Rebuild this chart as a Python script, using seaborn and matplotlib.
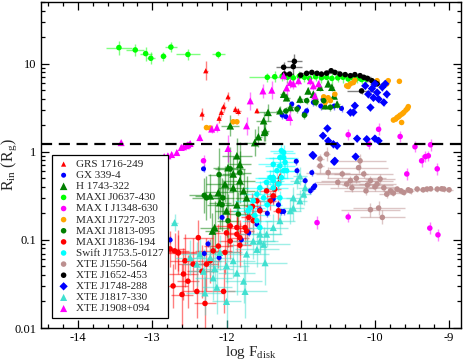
import numpy as np
import pandas as pd
import seaborn as sns
from matplotlib import pyplot as plt
from matplotlib.ticker import FixedLocator, LogLocator, NullFormatter

# ---- data: log F_disk (x), R_in in R_g (y), errors: x in dex, y in dex ----
GRS_X = [-12.28, -12.33, -11.98, -12.04, -12.07, -12.10, -11.88, -11.84, -11.59, -11.28, -11.30]
GRS_Y = [8.3, 2.68, 4.2, 3.25, 2.8, 2.4, 3.02, 2.87, 2.92, 0.53, 0.45]
GRS_XE = [0.03, 0.03, 0.03, 0.03, 0.03, 0.03, 0.03, 0.03, 0.02, 0.02, 0.03]
GRS_YE = [0.11, 0.07, 0.05, 0.05, 0.05, 0.05, 0.04, 0.04, 0.03, 0.08, 0.06]

GX_X = [-11.12, -11.03, -10.92, -10.83, -10.70, -10.55, -11.25, -11.20, -10.95, -10.45, -10.73,
        -11.06, -10.85, -10.81, -10.87, -10.94, -10.83, -11.05, -11.37, -11.26, -11.23, -11.55,
        -11.59, -12.06, -12.25, -12.76, -12.31, -11.70, -11.80, -11.45, -11.30, -12.30, -12.10]
GX_Y = [3.48, 3.18, 2.92, 3.63, 3.9, 3.3, 2.6, 2.5, 2.7, 3.1, 3.3,
        0.78, 0.58, 0.41, 0.36, 0.47, 0.39, 0.61, 0.29, 0.21, 0.21, 0.22,
        0.15, 0.18, 0.09, 0.10, 0.64, 0.12, 0.10, 0.20, 0.25, 0.07, 0.063]
GX_XE = [0.02] * 33
GX_YE = [0.04] * 33

H1743_X = [-11.23, -11.01, -10.67, -10.51, -10.83, -10.63, -10.74, -10.58, -11.14, -11.28, -11.19,
           -10.90, -10.80, -10.55, -11.44, -11.50, -11.48, -11.57, -11.49, -11.62, -11.95, -11.86,
           -11.82, -11.98, -11.91, -11.82, -12.02, -12.11, -12.09, -12.22, -11.91, -11.77, -11.73,
           -12.00, -12.16, -12.19, -11.86]
H1743_Y = [4.5, 3.96, 3.33, 3.48, 4.5, 5.9, 5.4, 5.4, 3.18, 2.92, 4.1,
           4.9, 4.0, 4.3, 2.8, 2.25, 1.73, 1.48, 1.66, 1.27, 1.97, 0.90,
           0.72, 0.66, 0.56, 0.47, 0.43, 0.345, 0.265, 0.316, 0.39, 0.36, 0.30,
           0.214, 0.138, 0.126, 0.25]
H1743_XE = [0.05, 0.04, 0.04, 0.04, 0.04, 0.03, 0.03, 0.03, 0.05, 0.05, 0.04,
            0.03, 0.03, 0.03, 0.15, 0.1, 0.05, 0.05, 0.05, 0.15, 0.12, 0.2,
            0.15, 0.2, 0.15, 0.2, 0.25, 0.2, 0.15, 0.2, 0.2, 0.15, 0.15,
            0.15, 0.2, 0.1, 0.15]
H1743_YE = [0.04, 0.04, 0.04, 0.04, 0.04, 0.04, 0.04, 0.04, 0.05, 0.05, 0.04,
            0.04, 0.04, 0.04, 0.1, 0.1, 0.12, 0.12, 0.1, 0.15, 0.12, 0.2,
            0.25, 0.25, 0.2, 0.25, 0.2, 0.3, 0.3, 0.25, 0.2, 0.25, 0.25,
            0.3, 0.3, 0.2, 0.25]

J0637_X = [-13.45, -13.23, -13.09, -13.02, -12.85, -12.75, -12.52, -12.11,
           -11.45, -11.35, -11.25, -11.18, -11.10, -11.02, -10.95, -10.88, -10.80, -10.72,
           -10.65, -10.58, -10.50, -10.43, -10.36, -10.30, -10.24, -10.18, -10.12]
J0637_Y = [15.2, 14.3, 13.0, 11.5, 12.1, 15.4, 12.7, 12.7,
           7.0, 7.1, 7.2, 7.0, 6.9, 7.2, 7.0, 6.8, 7.1, 6.9,
           7.0, 6.8, 6.9, 7.0, 6.7, 6.9, 6.8, 6.6, 6.7]
J0637_XE = [0.17, 0.12, 0.08, 0.05, 0.03, 0.08, 0.16, 0.09,
            0.25, 0.03, 0.03, 0.03, 0.03, 0.03, 0.03, 0.03, 0.03, 0.03,
            0.03, 0.03, 0.03, 0.03, 0.03, 0.03, 0.03, 0.03, 0.03]
J0637_YE = [0.08, 0.07, 0.08, 0.07, 0.05, 0.06, 0.06, 0.04,
            0.05, 0.06, 0.05, 0.06, 0.05, 0.06, 0.05, 0.06, 0.05, 0.06,
            0.05, 0.06, 0.05, 0.06, 0.05, 0.06, 0.05, 0.05, 0.05]

J1348_X = [-10.36, -10.08, -9.66, -9.95, -9.46, -9.37, -9.32, -9.28, -9.25, -9.57, -9.16,
           -10.78, -10.36, -9.26, -9.15, -12.31, -12.81]
J1348_Y = [1.56, 1.22, 1.49, 1.80, 1.14, 0.79, 0.88, 0.90, 1.20, 0.56, 0.64,
           0.157, 0.182, 0.136, 0.114, 0.79, 0.26]
J1348_XE = [0.02] * 17
J1348_YE = [0.06, 0.05, 0.06, 0.07, 0.06, 0.07, 0.06, 0.06, 0.07, 0.07, 0.07,
            0.07, 0.06, 0.07, 0.07, 0.06, 0.05]

J1727_X = [-10.36, -10.27, -10.33, -10.29, -10.38, -10.69, -10.54, -10.60, -10.67, -10.63,
           -9.82, -9.97, -9.84, -9.67, -9.75, -9.72, -9.70, -9.68, -9.66, -9.63, -9.61,
           -9.58, -9.56, -9.55, -9.64, -12.27, -12.22, -11.91, -11.86]
J1727_Y = [5.5, 6.5, 5.9, 6.1, 5.6, 4.2, 4.5, 3.8, 3.63, 4.1,
           6.4, 6.4, 5.9, 6.3, 2.29, 2.35, 2.45, 2.5, 2.6, 2.7, 2.8,
           2.98, 3.1, 3.25, 2.15, 1.88, 1.86, 2.19, 2.19]
J1727_XE = [0.01] * 29
J1727_YE = [0.02] * 29

J1813_X = [-10.92, -11.05, -10.69, -10.80, -11.20, -10.60, -10.95,
           -12.27, -12.06, -11.82, -11.98, -11.84, -12.05, -12.30, -11.95, -12.10]
J1813_Y = [3.8, 3.05, 3.8, 3.6, 2.9, 3.2, 2.6,
           0.30, 0.25, 0.58, 0.165, 0.196, 0.30, 0.32, 0.64, 0.55]
J1813_XE = [0.03, 0.03, 0.03, 0.03, 0.03, 0.03, 0.03,
            0.2, 0.2, 0.15, 0.15, 0.2, 0.15, 0.2, 0.2, 0.15]
J1813_YE = [0.04, 0.04, 0.04, 0.04, 0.04, 0.04, 0.04,
            0.25, 0.3, 0.25, 0.3, 0.25, 0.2, 0.2, 0.25, 0.3]

J1836_X = [-12.72, -12.60, -12.58, -12.52, -12.65, -12.70, -12.40, -12.29, -12.04, -12.45,
           -12.33, -12.22, -12.11, -11.95, -11.86, -11.75, -11.95, -11.82, -12.02, -12.18,
           -12.38, -12.27, -12.56, -12.76, -12.65, -11.37, -11.41, -11.30, -11.46, -11.55,
           -11.64, -11.73, -11.82, -11.86, -11.59, -11.35, -12.00, -11.70, -11.65]
J1836_Y = [0.030, 0.024, 0.041, 0.034, 0.072, 0.075, 0.026, 0.019, 0.026, 0.053,
           0.044, 0.058, 0.085, 0.097, 0.116, 0.138, 0.144, 0.087, 0.072, 0.075,
           0.106, 0.053, 0.058, 0.079, 0.071, 0.316, 0.277, 0.214, 0.36, 0.214,
           0.165, 0.126, 0.106, 0.138, 0.277, 0.376, 0.12, 0.18, 0.24]
J1836_XE = [0.2, 0.15, 0.2, 0.15, 0.25, 0.2, 0.2, 0.15, 0.15, 0.2,
            0.2, 0.15, 0.2, 0.15, 0.15, 0.1, 0.2, 0.15, 0.2, 0.25,
            0.2, 0.15, 0.2, 0.2, 0.25, 0.08, 0.08, 0.08, 0.1, 0.1,
            0.1, 0.1, 0.12, 0.1, 0.1, 0.08, 0.15, 0.1, 0.1]
J1836_YE = [0.25, 0.35, 0.3, 0.3, 0.25, 0.2, 0.3, 0.3, 0.25, 0.3,
            0.3, 0.25, 0.25, 0.2, 0.2, 0.2, 0.2, 0.25, 0.25, 0.25,
            0.2, 0.3, 0.3, 0.2, 0.2, 0.1, 0.1, 0.12, 0.1, 0.12,
            0.15, 0.15, 0.2, 0.15, 0.12, 0.1, 0.2, 0.15, 0.15]

J1753_X = [-11.26, -11.23, -11.21, -11.28, -11.32, -11.23, -11.37, -11.26, -11.30, -11.37,
           -11.23, -11.28, -11.37, -11.41, -11.46, -11.55, -11.59, -11.64, -11.68, -11.71,
           -11.59, -11.55, -11.37, -11.19, -11.28, -11.50, -11.45, -11.62]
J1753_Y = [1.03, 0.86, 0.76, 0.69, 0.61, 0.61, 0.51, 0.51, 0.43, 0.39,
           0.98, 0.86, 0.72, 0.51, 0.45, 0.39, 0.33, 0.277, 0.23, 0.214,
           0.165, 0.138, 0.47, 0.61, 0.30, 0.30, 0.25, 0.19]
J1753_XE = [0.15, 0.2, 0.15, 0.2, 0.15, 0.2, 0.2, 0.15, 0.2, 0.2,
            0.15, 0.2, 0.2, 0.2, 0.15, 0.2, 0.2, 0.25, 0.2, 0.2,
            0.2, 0.2, 0.15, 0.15, 0.2, 0.2, 0.2, 0.2]
J1753_YE = [0.08] * 28

J1550_X = [-10.74, -10.74, -10.63, -10.65, -10.44, -10.33, -10.22, -10.20, -10.15, -10.06,
           -9.97, -9.88, -9.79, -9.70, -9.61, -9.52, -9.43, -9.30, -9.16, -9.07,
           -9.84, -9.93, -10.31, -10.38, -10.06, -9.95, -9.90, -10.50, -10.10, -10.00,
           -9.75, -9.65, -9.55, -9.35, -9.25, -9.10, -9.00, -10.25, -10.12]
J1550_Y = [0.83, 0.69, 0.58, 0.94, 0.56, 0.47, 0.66, 0.79, 0.56, 0.47,
           0.43, 0.39, 0.36, 0.377, 0.345, 0.36, 0.377, 0.377, 0.377, 0.377,
           0.33, 0.49, 0.39, 0.43, 0.22, 0.23, 0.18, 0.45, 0.42, 0.40,
           0.34, 0.36, 0.37, 0.37, 0.38, 0.38, 0.37, 0.50, 0.36]
J1550_XE = [0.05, 0.05, 0.3, 0.05, 0.35, 0.4, 0.4, 0.35, 0.4, 0.3,
            0.25, 0.2, 0.1, 0.08, 0.05, 0.05, 0.05, 0.05, 0.05, 0.05,
            0.1, 0.2, 0.3, 0.4, 0.4, 0.35, 0.3, 0.3, 0.35, 0.3,
            0.1, 0.05, 0.05, 0.05, 0.05, 0.05, 0.05, 0.4, 0.3]
J1550_YE = [0.06, 0.08, 0.06, 0.08, 0.05, 0.05, 0.06, 0.08, 0.05, 0.05,
            0.05, 0.04, 0.03, 0.03, 0.03, 0.03, 0.03, 0.03, 0.03, 0.03,
            0.04, 0.06, 0.05, 0.05, 0.08, 0.08, 0.08, 0.05, 0.05, 0.05,
            0.03, 0.03, 0.03, 0.03, 0.03, 0.03, 0.03, 0.05, 0.05]

J1652_X = [-11.085, -11.10, -11.23, -11.22, -11.15, -10.92, -10.85, -10.78, -10.72, -10.59,
           -10.54, -10.47, -10.40, -10.33, -10.27, -10.20, -10.15, -10.04, -10.00, -10.18,
           -9.97, -11.00, -10.65, -10.10]
J1652_Y = [10.6, 9.25, 9.1, 7.6, 7.6, 7.76, 7.95, 7.76, 7.6, 8.3,
           7.95, 7.6, 7.5, 7.3, 7.5, 7.3, 7.0, 6.4, 6.1, 4.9,
           5.9, 7.4, 7.8, 6.8]
J1652_XE = [0.1, 0.12, 0.1, 0.05, 0.05, 0.08, 0.06, 0.05, 0.05, 0.1,
            0.05, 0.06, 0.08, 0.05, 0.05, 0.08, 0.1, 0.1, 0.05, 0.2,
            0.1, 0.05, 0.05, 0.05]
J1652_YE = [0.08, 0.1, 0.06, 0.04, 0.04, 0.03, 0.03, 0.03, 0.03, 0.03,
            0.03, 0.03, 0.03, 0.03, 0.03, 0.03, 0.03, 0.03, 0.03, 0.03,
            0.03, 0.03, 0.03, 0.03]

J1748_X = [-10.64, -10.70, -10.63, -10.56, -10.51, -10.24, -10.11, -10.00, -9.95, -10.83,
           -10.26, -10.54, -10.84, -10.55, -10.13, -10.04, -9.97, -9.90, -9.86, -10.02,
           -9.95, -9.88, -10.09, -9.84, -10.00, -10.29, -10.27, -10.06, -10.33]
J1748_Y = [1.84, 1.52, 1.33, 1.22, 1.17, 1.41, 1.39, 1.41, 1.33, 0.90,
           0.88, 0.79, 0.92, 0.77, 5.6, 5.2, 4.7, 5.4, 5.9, 4.1,
           3.96, 3.63, 4.5, 4.5, 5.9, 2.8, 3.33, 3.18, 2.79]
J1748_XE = [0.02] * 29
J1748_YE = [0.04] * 29

J1817_X = [-11.10, -11.01, -10.96, -11.05, -11.01, -10.94, -11.14, -12.70, -12.36, -12.22,
           -12.31, -12.18, -12.13, -12.00, -12.29, -12.00, -11.91, -11.86, -11.75, -11.73,
           -11.59, -11.50, -11.48, -11.55, -11.64, -12.09, -12.16, -12.40, -11.77, -12.49,
           -11.10, -11.28, -11.37, -11.46, -11.55]
J1817_Y = [0.30, 0.277, 0.33, 0.47, 0.53, 0.39, 0.214, 0.157, 0.069, 0.063,
           0.044, 0.037, 0.029, 0.020, 0.025, 0.051, 0.058, 0.042, 0.026, 0.069,
           0.078, 0.089, 0.055, 0.116, 0.097, 0.072, 0.047, 0.053, 0.034, 0.063,
           0.23, 0.165, 0.138, 0.116, 0.097]
J1817_XE = [0.1, 0.1, 0.1, 0.1, 0.1, 0.1, 0.15, 0.05, 0.25, 0.3,
            0.2, 0.25, 0.2, 0.2, 0.25, 0.3, 0.3, 0.25, 0.3, 0.3,
            0.3, 0.35, 0.3, 0.3, 0.3, 0.3, 0.25, 0.2, 0.25, 0.2,
            0.15, 0.2, 0.2, 0.2, 0.25]
J1817_YE = [0.12, 0.12, 0.12, 0.1, 0.1, 0.12, 0.15, 0.1, 0.2, 0.2,
            0.25, 0.25, 0.3, 0.35, 0.25, 0.2, 0.2, 0.25, 0.3, 0.2,
            0.2, 0.2, 0.25, 0.2, 0.2, 0.2, 0.25, 0.25, 0.25, 0.2,
            0.15, 0.15, 0.15, 0.15, 0.15]

J1908_X = [-13.42, -12.84, -12.79, -12.74, -12.67, -12.61, -12.58, -12.54, -12.52, -12.49,
           -12.36, -12.20, -12.13, -11.98, -11.73, -11.68, -11.51, -11.39, -11.19, -11.23,
           -11.14, -11.10, -11.03, -10.87, -10.83, -10.76, -10.81, -11.15]
J1908_Y = [1.27, 0.88, 0.90, 0.93, 0.98, 1.12, 1.14, 1.17, 1.20, 1.24,
           1.45, 1.81, 1.89, 1.09, 1.97, 3.78, 4.9, 5.0, 5.3, 7.3,
           6.1, 5.9, 6.4, 6.4, 5.6, 5.9, 4.3, 2.45]
J1908_XE = [0.02] * 28
J1908_YE = [0.03, 0.03, 0.03, 0.03, 0.03, 0.03, 0.03, 0.03, 0.03, 0.03,
            0.04, 0.05, 0.05, 0.15, 0.1, 0.1, 0.08, 0.1, 0.08, 0.05,
            0.06, 0.06, 0.05, 0.05, 0.05, 0.05, 0.05, 0.08]

R_ISCO = 1.237
X_TICKS = [-14, -13, -12, -11, -10, -9]

SOURCES = [
    ("GRS 1716-249", GRS_X, GRS_Y, GRS_XE, GRS_YE, "#ff0000", "^", 14),
    ("GX 339-4", GX_X, GX_Y, GX_XE, GX_YE, "#0000ff", "o", 13),
    ("H 1743-322", H1743_X, H1743_Y, H1743_XE, H1743_YE, "#007f00", "^", 30),
    ("MAXI J0637-430", J0637_X, J0637_Y, J0637_XE, J0637_YE, "#00ff00", "o", 16),
    ("MAX I J1348-630", J1348_X, J1348_Y, J1348_XE, J1348_YE, "#ff00ff", "o", 16),
    ("MAXI J1727-203", J1727_X, J1727_Y, J1727_XE, J1727_YE, "#ffa500", "o", 16),
    ("MAXI J1813-095", J1813_X, J1813_Y, J1813_XE, J1813_YE, "#007f00", "o", 16),
    ("MAXI J1836-194", J1836_X, J1836_Y, J1836_XE, J1836_YE, "#ff0000", "o", 16),
    ("Swift J1753.5-0127", J1753_X, J1753_Y, J1753_XE, J1753_YE, "#00ffff", "o", 16),
    ("XTE J1550-564", J1550_X, J1550_Y, J1550_XE, J1550_YE, "#bc8f8f", "o", 16),
    ("XTE J1652-453", J1652_X, J1652_Y, J1652_XE, J1652_YE, "#000000", "o", 16),
    ("XTE J1748-288", J1748_X, J1748_Y, J1748_XE, J1748_YE, "#0000ff", "D", 18),
    ("XTE J1817-330", J1817_X, J1817_Y, J1817_XE, J1817_YE, "#40e0d0", "^", 26),
    ("XTE J1908+094", J1908_X, J1908_Y, J1908_XE, J1908_YE, "#ff00ff", "^", 26),
]

sns.set_style("ticks")
plt.rcParams['font.family'] = ['Liberation Serif', 'DejaVu Serif']
plt.rcParams['mathtext.fontset'] = 'custom'
plt.rcParams['mathtext.rm'] = 'Liberation Serif'
plt.rcParams['mathtext.it'] = 'Liberation Serif:italic'

fig = plt.figure(figsize=(4.63, 3.63), dpi=100)
ax = fig.add_axes([0.0886, 0.0964, 0.907, 0.898])

for name, xs, ys, xe, ye, col, mk, size in SOURCES:
    df = pd.DataFrame({"x": xs, "y": ys, "xe": xe, "ye": ye})
    lo = df["y"] - df["y"] * 10 ** (-df["ye"])
    hi = df["y"] * 10 ** df["ye"] - df["y"]
    ax.errorbar(df["x"], df["y"], xerr=df["xe"], yerr=[lo, hi], fmt="none",
                ecolor=col, alpha=0.5, elinewidth=1.0, capsize=0, zorder=2)
    sns.scatterplot(data=df, x="x", y="y", ax=ax, color=col, marker=mk, s=size,
                    edgecolor="none", linewidth=0, label=name, zorder=3)

ax.axhline(R_ISCO, color="black", lw=1.6, ls=(0, (5, 3)), zorder=4)

ax.set_yscale("log")
ax.set_xlim(-14.5, -8.84)
ax.set_ylim(0.01, 50)
ax.xaxis.set_major_locator(FixedLocator(X_TICKS))
ax.xaxis.set_minor_locator(FixedLocator(np.arange(-14.4, -8.8, 0.2)))
ax.yaxis.set_major_locator(LogLocator(base=10))
ax.yaxis.set_minor_locator(LogLocator(base=10, subs=np.arange(2, 10)))
ax.yaxis.set_minor_formatter(NullFormatter())
ax.set_yticks([0.01, 0.1, 1, 10])
ax.set_yticklabels(["0.01", "0.1", "1", "10"])
ax.set_xticklabels([str(t) for t in X_TICKS])
ax.tick_params(which="both", direction="in", top=True, right=True, labelsize=9,
               width=0.9, colors="black")
ax.tick_params(axis="x", which="major", pad=3)
ax.tick_params(which="major", length=6)
ax.tick_params(which="minor", length=3)
for sp in ax.spines.values():
    sp.set_linewidth(1.0)
    sp.set_color("black")

ax.set_xlabel(r"log F$_{\rm disk}$", fontsize=11)
ax.set_ylabel(r"R$_{\rm in}$ (R$_{\rm g}$)", fontsize=11.5)
ax.xaxis.set_label_coords(0.5, -0.048)
ax.yaxis.set_label_coords(-0.052, 0.5)

leg = ax.legend(loc="lower left", bbox_to_anchor=(0.026, 0.031), borderaxespad=0,
                fontsize=8, frameon=True, fancybox=False, framealpha=1,
                edgecolor="black", labelspacing=0.12, handlelength=1.3,
                handletextpad=0.5, borderpad=0.4, markerscale=1.0)
leg.get_frame().set_linewidth(0.9)

fig.savefig("out.png", dpi=100)
